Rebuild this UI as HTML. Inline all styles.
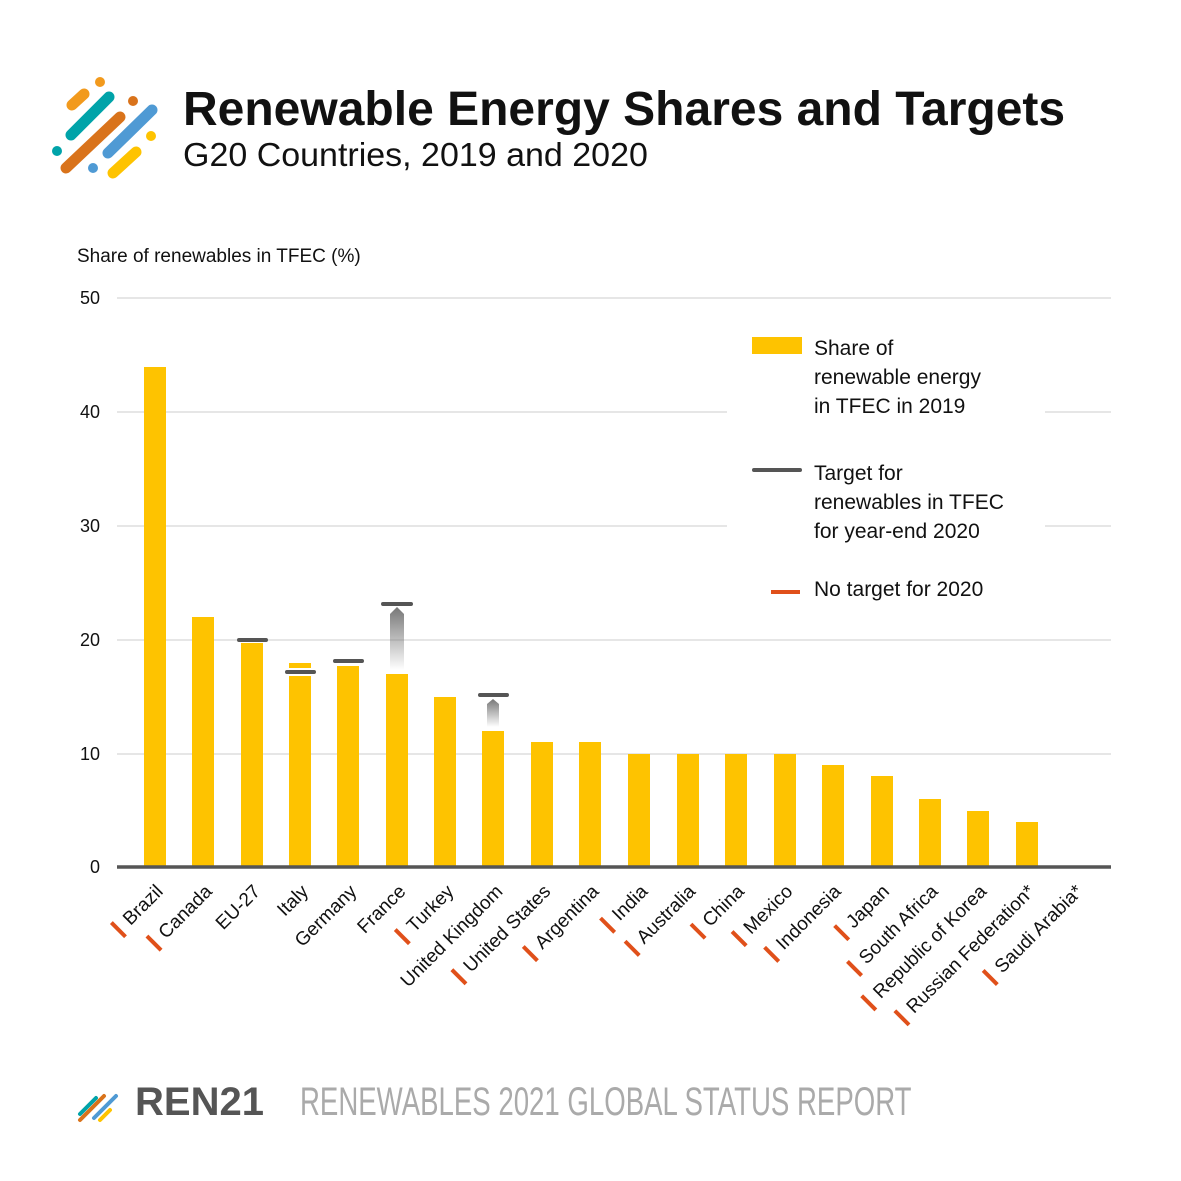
<!DOCTYPE html>
<html><head><meta charset="utf-8"><style>
body{margin:0;width:1181px;height:1181px;background:#fff;font-family:"Liberation Sans",sans-serif;position:relative;overflow:hidden}
.a{position:absolute}
.lab{position:absolute;white-space:nowrap;font-size:19px;color:#111;transform-origin:100% 50%;transform:rotate(-45deg);line-height:22px}
.m{display:inline-block;width:4px;height:20px;background:#e0501a;margin-right:9px;vertical-align:-4px}
.yt{position:absolute;left:60px;width:40px;text-align:right;font-size:18px;color:#111}
</style></head><body>
<svg class="a" style="left:0;top:0" width="1181" height="1181">
<g stroke-linecap="round">
<line x1="72" y1="105" x2="84" y2="94" stroke="#f29a1d" stroke-width="11"/>
<line x1="71" y1="135" x2="109" y2="97" stroke="#00a3a9" stroke-width="11"/>
<line x1="66" y1="168" x2="120" y2="117" stroke="#d9731b" stroke-width="11"/>
<line x1="108" y1="153" x2="152" y2="110" stroke="#4f9ad4" stroke-width="11"/>
<line x1="113" y1="173" x2="136" y2="152" stroke="#fec300" stroke-width="11"/>
</g>
<circle cx="100" cy="82" r="5" fill="#f29a1d"/><circle cx="133" cy="101" r="5" fill="#d9731b"/>
<circle cx="57" cy="151" r="5" fill="#00a3a9"/><circle cx="93" cy="168" r="5" fill="#4f9ad4"/><circle cx="151" cy="136" r="5" fill="#fec300"/>
<g stroke="#ccc" stroke-width="1">
<line x1="117" y1="298" x2="1111" y2="298"/><line x1="117" y1="412" x2="1111" y2="412"/><line x1="117" y1="526" x2="1111" y2="526"/><line x1="117" y1="640" x2="1111" y2="640"/><line x1="117" y1="754" x2="1111" y2="754"/>
</g>
<rect x="727" y="330" width="318" height="290" fill="#fff"/>
<defs><linearGradient id="g" x1="0" y1="0" x2="0" y2="1"><stop offset="0" stop-color="#777"/><stop offset="1" stop-color="#777" stop-opacity="0"/></linearGradient></defs>
<g fill="#fec300">
<rect x="144" y="367" width="22" height="500"/><rect x="192" y="617" width="22" height="250"/><rect x="241" y="643" width="22" height="224"/>
<rect x="289" y="663" width="22" height="204"/><rect x="337" y="666" width="22" height="201"/><rect x="386" y="674" width="22" height="193"/>
<rect x="434" y="697" width="22" height="170"/><rect x="482" y="731" width="22" height="136"/><rect x="531" y="742" width="22" height="125"/>
<rect x="579" y="742" width="22" height="125"/><rect x="628" y="754" width="22" height="113"/><rect x="677" y="754" width="22" height="113"/>
<rect x="725" y="754" width="22" height="113"/><rect x="774" y="754" width="22" height="113"/><rect x="822" y="765" width="22" height="102"/>
<rect x="871" y="776" width="22" height="91"/><rect x="919" y="799" width="22" height="68"/><rect x="967" y="811" width="22" height="56"/><rect x="1016" y="822" width="22" height="45"/>
</g>
<rect x="289" y="668" width="22" height="8" fill="#fff"/>
<path d="M390 670 V614 L397 607 L404 614 V670 Z" fill="url(#g)"/>
<path d="M487 727 V704 L493 699 L499 704 V727 Z" fill="url(#g)"/>
<g stroke="#555" stroke-width="4" stroke-linecap="round">
<line x1="239" y1="640" x2="266" y2="640"/><line x1="287" y1="672" x2="314" y2="672"/><line x1="335" y1="661" x2="362" y2="661"/>
<line x1="383" y1="604" x2="411" y2="604"/><line x1="480" y1="695" x2="507" y2="695"/>
<line x1="754" y1="470" x2="800" y2="470"/>
</g>
<rect x="752" y="337" width="50" height="17" fill="#fec300"/>
<line x1="771" y1="592" x2="800" y2="592" stroke="#e0501a" stroke-width="4"/>
<line x1="117" y1="867" x2="1111" y2="867" stroke="#555" stroke-width="3.5"/>
<g stroke-linecap="round">
<line x1="80" y1="1114" x2="96" y2="1098" stroke="#00a3a9" stroke-width="4"/><line x1="80" y1="1120" x2="104" y2="1096" stroke="#d9731b" stroke-width="4"/><line x1="94" y1="1118" x2="116" y2="1096" stroke="#4f9ad4" stroke-width="4"/><line x1="100" y1="1120" x2="110" y2="1110" stroke="#fec300" stroke-width="4"/>
</g>
</svg>
<div class="a" style="left:183px;top:82px;font-size:48px;font-weight:bold;color:#111">Renewable Energy Shares and Targets</div>
<div class="a" style="left:183px;top:136px;font-size:33px;color:#111;transform-origin:0 0;transform:scaleX(1.03)">G20 Countries, 2019 and 2020</div>
<div class="a" style="left:77px;top:246px;font-size:19px;color:#111">Share of renewables in TFEC (%)</div>
<div class="yt" style="top:288px">50</div><div class="yt" style="top:402px">40</div><div class="yt" style="top:516px">30</div><div class="yt" style="top:630px">20</div><div class="yt" style="top:744px">10</div><div class="yt" style="top:857px">0</div>
<div class="a" style="left:814px;top:334px;font-size:21px;line-height:29px;color:#111">Share of<br>renewable energy<br>in TFEC in 2019</div>
<div class="a" style="left:814px;top:459px;font-size:21px;line-height:29px;color:#111">Target for<br>renewables in TFEC<br>for year-end 2020</div>
<div class="a" style="left:814px;top:578px;font-size:21px;color:#111">No target for 2020</div>
<div id="labs"></div>
<div class="a" style="left:135px;top:1080px;font-size:40px;font-weight:bold;color:#555">REN21</div>
<div class="a" style="left:300px;top:1080px;font-size:40px;color:#aaa;transform-origin:0 0;transform:scaleX(0.69);white-space:nowrap">RENEWABLES 2021 GLOBAL STATUS REPORT</div>
<script>
var L=[["Brazil",1],["Canada",1],["EU-27",0],["Italy",0],["Germany",0],["France",0],["Turkey",1],["United Kingdom",0],["United States",1],["Argentina",1],["India",1],["Australia",1],["China",1],["Mexico",1],["Indonesia",1],["Japan",1],["South Africa",1],["Republic of Korea",1],["Russian Federation*",1],["Saudi Arabia*",1]];
var h="";L.forEach(function(l,i){var c=155+i*48.4;h+='<div class="lab" style="right:'+(1181-c-6)+'px;top:878px">'+(l[1]?'<span class="m"></span>':'')+l[0]+'</div>';});
document.getElementById("labs").innerHTML=h;
</script>
</body></html>
